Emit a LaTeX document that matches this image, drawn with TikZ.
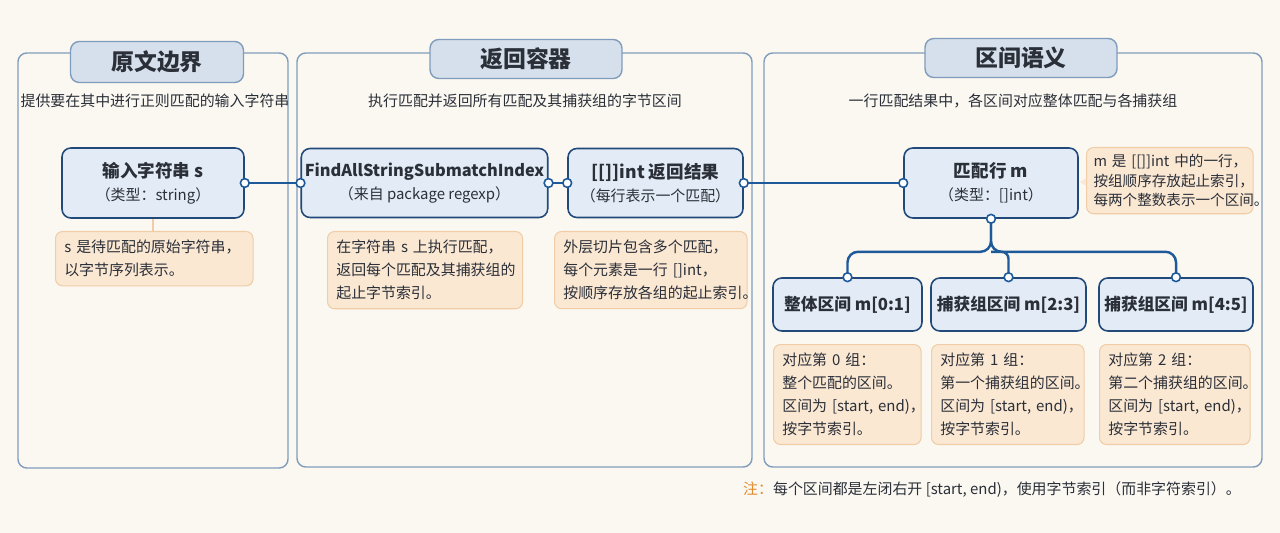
\documentclass[tikz,border=0pt]{standalone}
\usepackage{fontspec}
\setmainfont{Noto Sans CJK SC}
\usetikzlibrary{positioning, shapes, arrows.meta}
\definecolor{bgc}{HTML}{FBF8F1}
\definecolor{panelc}{HTML}{7F9CBC}
\definecolor{titlef}{HTML}{D6E0EC}
\definecolor{boxf}{HTML}{E3ECF6}
\definecolor{boxd}{HTML}{21497A}
\definecolor{notef}{HTML}{FBE8D3}
\definecolor{noted}{HTML}{F0CDA6}
\definecolor{linec}{HTML}{1E5A9A}
\definecolor{txt}{HTML}{2A2F38}
\definecolor{warn}{HTML}{E08A2E}
\tikzset{
  panel/.style={draw=panelc, line width=0.8pt, rounded corners=5pt},
  title/.style={draw=panelc, fill=titlef, line width=0.8pt, rounded corners=5pt, font=\bfseries\fontsize{13}{15}\selectfont, text=txt},
  sub/.style={font=\fontsize{8.5}{10}\selectfont, text=txt},
  box/.style={draw=boxd, fill=boxf, line width=0.9pt, rounded corners=5pt, align=center, text=txt, inner sep=2pt},
  note/.style={draw=noted, fill=notef, line width=0.6pt, rounded corners=4pt, align=left, text=txt, font=\fontsize{8.5}{13}\selectfont, inner sep=5pt, anchor=north west},
  link/.style={draw=linec, line width=1.4pt},
  dot/.style={circle, draw=linec, fill=white, line width=0.9pt, inner sep=0pt, minimum size=5pt}
}
\newcommand{\boxtxt}[2]{{\bfseries\fontsize{10}{13}\selectfont #1}\\[1pt]{\fontsize{8.5}{10}\selectfont #2}}
\begin{document}
\begin{tikzpicture}[x=0.02cm, y=-0.02cm]
  \fill[bgc] (0,0) rectangle (1280,533);
  \useasboundingbox (0,0) rectangle (1280,533);
  % panels
  \draw[panel] (18,53) rectangle (288,468);
  \draw[panel] (297,53) rectangle (752,467);
  \draw[panel] (764,53) rectangle (1262,467);
  \node[title, minimum width=3.46cm, minimum height=0.82cm] (t1) at (157,62) {原文边界};
  \node[title, minimum width=3.84cm, minimum height=0.78cm] (t2) at (526,59) {返回容器};
  \node[title, minimum width=3.84cm, minimum height=0.78cm] (t3) at (1021,58) {区间语义};
  \node[sub] (s1) at (155,101) {提供要在其中进行正则匹配的输入字符串};
  \node[sub] (s2) at (525,101) {执行匹配并返回所有匹配及其捕获组的字节区间};
  \node[sub] (s3) at (1013,101) {一行匹配结果中，各区间对应整体匹配与各捕获组};
  % main boxes
  \node[box, minimum width=3.64cm, minimum height=1.4cm] (input) at (153,183) {\boxtxt{输入字符串 s}{（类型：string）}};
  \node[box, minimum width=4.7cm, minimum height=1.38cm] (find) at (424.5,183) {{\bfseries\fontsize{9.3}{13}\selectfont FindAllStringSubmatchIndex}\\[1pt]{\fontsize{8.5}{10}\selectfont （来自 package regexp）}};
  \node[box, minimum width=3.5cm, minimum height=1.38cm] (res) at (655.5,183) {\boxtxt{[[]]int 返回结果}{（每行表示一个匹配）}};
  \node[box, minimum width=3.48cm, minimum height=1.4cm] (row) at (991,183) {\boxtxt{匹配行 m}{（类型：[]int）}};
  \node[box, minimum width=2.98cm, minimum height=1.06cm, font=\bfseries\fontsize{9.5}{12}\selectfont] (g0) at (847.5,304.5) {整体区间 m[0:1]};
  \node[box, minimum width=3.1cm, minimum height=1.06cm, font=\bfseries\fontsize{9.5}{12}\selectfont] (g1) at (1008.5,304.5) {捕获组区间 m[2:3]};
  \node[box, minimum width=3.08cm, minimum height=1.06cm, font=\bfseries\fontsize{9.5}{12}\selectfont] (g2) at (1176,304.5) {捕获组区间 m[4:5]};
  % notes
  \draw[noted, line width=0.6pt] (input.south) -- ++(0,12);
  \node[note, text width=3.6cm] (n1) at (55,231) {\mbox{s 是待匹配的原始字符串，}\\以字节序列表示。};
  \node[note, text width=3.55cm] (n2) at (327,231) {在字符串 s 上执行匹配，\\返回每个匹配及其捕获组的\\起止字节索引。};
  \node[note, text width=3.5cm] (n3) at (554,231) {外层切片包含多个匹配，\\每个元素是一行 []int，\\\mbox{按顺序存放各组的起止索引。}};
  \node[note, text width=3.05cm, font=\fontsize{8.3}{11}\selectfont, inner sep=4pt] (n4) at (1086,147) {\mbox{m 是 [[]]int 中的一行，}\\按组顺序存放起止索引，\\\mbox{每两个整数表示一个区间。}};
  \fill[notef] (1086,178) -- (1080,182) -- (1086,186) -- cycle;
  \node[note, text width=2.6cm] (n5) at (773,344) {对应第 0 组：\\整个匹配的区间。\\\mbox{区间为 [start, end)，}\\按字节索引。};
  \node[note, text width=2.7cm] (n6) at (931,344) {对应第 1 组：\\第一个捕获组的区间。\\\mbox{区间为 [start, end)，}\\按字节索引。};
  \node[note, text width=2.66cm] (n7) at (1099,344) {对应第 2 组：\\第二个捕获组的区间。\\\mbox{区间为 [start, end)，}\\按字节索引。};
  % connectors
  \draw[link] (input.east) -- (find.west);
  \draw[link] (find.east) -- (res.west);
  \draw[link] (res.east) -- (row.west);
  \draw[link, rounded corners=6pt] (row.south) -- ++(0,33) -| (g0.north);
  \draw[link, rounded corners=6pt] (row.south) -- ++(0,33) -| (g2.north);
  \draw[link, rounded corners=4pt] (row.south) ++(0,33) -| (g1.north);
  \foreach \n/\a in {input/east, find/west, find/east, res/west, res/east, row/west, row/south, g0/north, g1/north, g2/north}
    \node[dot] at (\n.\a) {};
  % footer
  \node[font=\fontsize{8.5}{10}\selectfont, anchor=east, text=txt] (foot) at (1247,490) {\textcolor{warn}{注：}每个区间都是左闭右开 [start, end)，使用字节索引（而非字符索引）。};
\end{tikzpicture}
\end{document}
